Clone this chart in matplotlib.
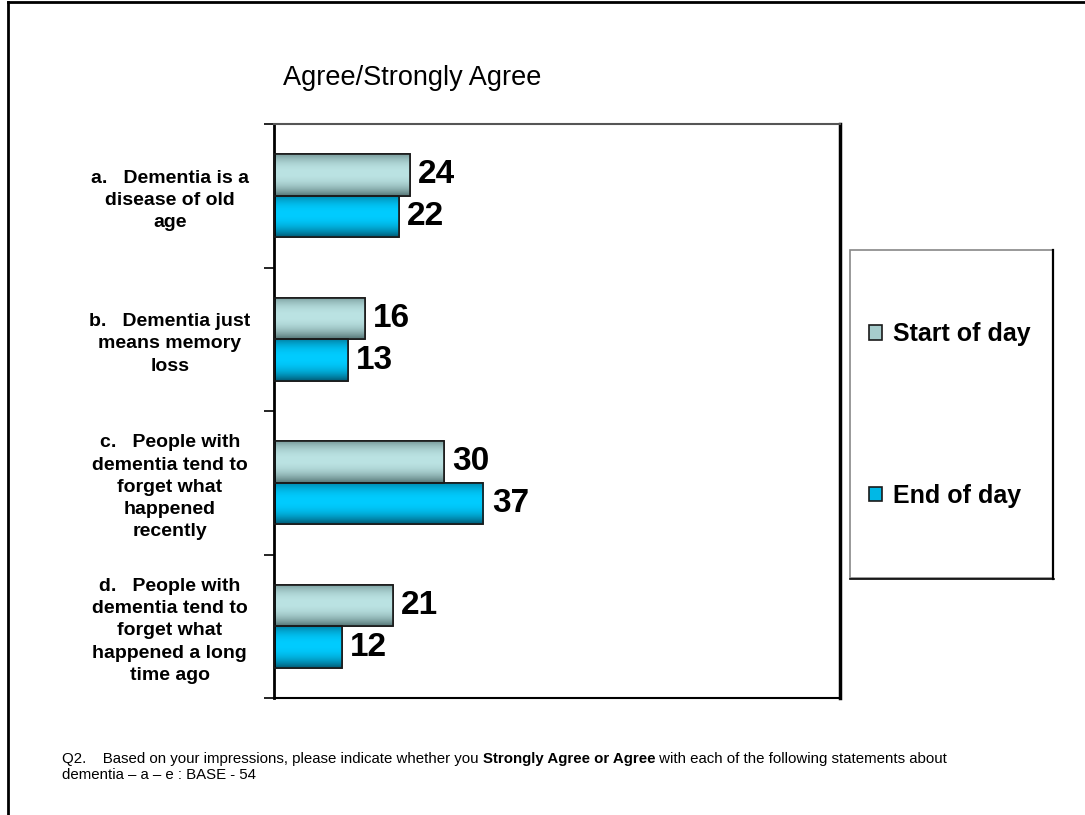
import numpy as np
import matplotlib
matplotlib.use("Agg")
import matplotlib.pyplot as plt
from matplotlib.patches import Patch, Rectangle
from matplotlib.lines import Line2D
from matplotlib import font_manager

categories = [
    "a.   Dementia is a\ndisease of old\nage",
    "b.   Dementia just\nmeans memory\nloss",
    "c.   People with\ndementia tend to\nforget what\nhappened\nrecently",
    "d.   People with\ndementia tend to\nforget what\nhappened a long\ntime ago",
]
series_names = ["Start of day", "End of day"]
start_vals = [24, 16, 30, 21]
end_vals = [22, 13, 37, 12]
title = "Agree/Strongly Agree"

plt.rcParams['font.family'] = ['Liberation Sans', 'DejaVu Sans']

W, H = 1085, 815
fig = plt.figure(figsize=(W / 100, H / 100), dpi=100)
fig.patch.set_facecolor('white')

def fx(px):
    return px / W

def fy(py):
    return 1 - py / H

ax = fig.add_axes([fx(274), fy(698), fx(840) - fx(274), fy(124) - fy(698)])

n = len(categories)
ypos = np.arange(n)
bh = 0.29

grad_specs = [
    (np.array([0x55, 0x75, 0x75]) / 255, np.array([0xbb, 0xe3, 0xe3]) / 255),
    (np.array([0x00, 0x5a, 0x75]) / 255, np.array([0x00, 0xcc, 0xff]) / 255),
]
legend_face = ['#a6cccc', '#00b8e6']

def gradient(edge, center, npts=64):
    t = np.linspace(0, 1, npts)
    m = 1 - np.abs((t - 0.45) / 0.55) ** 2.2
    m = np.clip(m, 0, 1)
    col = edge[None, :] * (1 - m[:, None]) + center[None, :] * m[:, None]
    return col[:, None, :]

for k, (vals, off) in enumerate([(start_vals, -bh / 2), (end_vals, bh / 2)]):
    bars = ax.barh(ypos + off, vals, height=bh, color=legend_face[k],
                   edgecolor='#1a1a1a', linewidth=1.2, zorder=2)
    img = gradient(*grad_specs[k])
    for b, v in zip(bars, vals):
        x0, y0 = b.get_x(), b.get_y()
        w, h = b.get_width(), b.get_height()
        im = ax.imshow(img, extent=(x0, x0 + w, y0 + h, y0), origin='upper',
                       aspect='auto', zorder=2.5, interpolation='bilinear')
        im.set_clip_path(b)
        ax.barh(y0 + h / 2, w, height=h, left=x0, fill=False,
                edgecolor='#1a1a1a', linewidth=1.2, zorder=3)
        ax.annotate(f"{v}", xy=(x0 + w, y0 + h / 2), xytext=(6, 0),
                    textcoords='offset points', va='center', ha='left',
                    fontsize=24, fontweight='bold', color='black')

ax.set_xlim(0, 100)
ax.set_ylim(n - 0.5, -0.5)
ax.set_xticks([])
ax.set_yticks(ypos)
ax.set_yticklabels(categories, fontsize=14, fontweight='bold',
                   ha='center', multialignment='center', linespacing=1.4)
ax.tick_params(axis='y', which='major', length=0, pad=75)
for lab in ax.get_yticklabels():
    lab.set_verticalalignment('center_baseline')
ax.set_yticks(np.arange(-0.5, n, 1.0), minor=True)
ax.tick_params(axis='y', which='minor', length=7, width=1.2, direction='out')

ax.spines['left'].set_linewidth(2)
ax.spines['left'].set_color('black')
ax.spines['top'].set_linewidth(1.5)
ax.spines['top'].set_color('#555555')
ax.spines['bottom'].set_linewidth(1.5)
ax.spines['bottom'].set_color('black')
ax.spines['right'].set_linewidth(2.5)
ax.spines['right'].set_color('black')

fig.text(fx(283), fy(78), title, fontsize=19.5, va='center', ha='left')

# legend box
fig.patches.append(Rectangle((fx(850), fy(578)), fx(1053) - fx(850), fy(250) - fy(578),
                             transform=fig.transFigure, facecolor='white',
                             edgecolor='#888888', linewidth=1.2, zorder=1))
fig.lines.append(Line2D([fx(1053), fx(1053)], [fy(250), fy(579)], transform=fig.transFigure,
                        color='black', linewidth=1.6))
fig.lines.append(Line2D([fx(850), fx(1054)], [fy(579), fy(579)], transform=fig.transFigure,
                        color='black', linewidth=1.2))
handles = [Patch(facecolor=legend_face[i], edgecolor='#1a1a1a', linewidth=1.2)
           for i in range(2)]
leg = fig.legend(handles, series_names, loc='center left',
                 bbox_to_anchor=(fx(869), fy(415)), frameon=False,
                 prop={'weight': 'bold', 'size': 18}, labelspacing=5.5,
                 handlelength=0.52, handleheight=0.52, handletextpad=0.45,
                 borderpad=0, borderaxespad=0)

# page frame
fig.lines.append(Line2D([fx(8), fx(8)], [fy(2), 0], transform=fig.transFigure,
                        color='black', linewidth=2))
fig.lines.append(Line2D([fx(8), 1], [fy(2), fy(2)], transform=fig.transFigure,
                        color='black', linewidth=2))

# footnote
avail = {f.name for f in font_manager.fontManager.ttflist}
foot_family = ['Liberation Sans Narrow'] if 'Liberation Sans Narrow' in avail else ['Liberation Sans']
fs = 10.8
t1 = fig.text(fx(62), fy(759), "Q2.    Based on your impressions, please indicate whether you ",
              fontsize=fs, family=foot_family, va='center', ha='left')
t2 = fig.text(0, 0, "Strongly Agree or Agree", fontsize=fs, family=foot_family,
              fontweight='bold', va='bottom', ha='left')
t3 = fig.text(0, 0, " with each of the following statements about", fontsize=fs,
              family=foot_family, va='bottom', ha='left')
fig.canvas.draw()
r = fig.canvas.get_renderer()
bb1 = t1.get_window_extent(r)
t2.set_position((bb1.x1 / W, bb1.y0 / H))
fig.canvas.draw()
bb2 = t2.get_window_extent(r)
t3.set_position((bb2.x1 / W, bb1.y0 / H))
fig.text(fx(62), fy(775), "dementia \u2013 a \u2013 e : BASE - 54", fontsize=fs,
         family=foot_family, va='center', ha='left')

fig.savefig("out.png", dpi=100, facecolor='white')
